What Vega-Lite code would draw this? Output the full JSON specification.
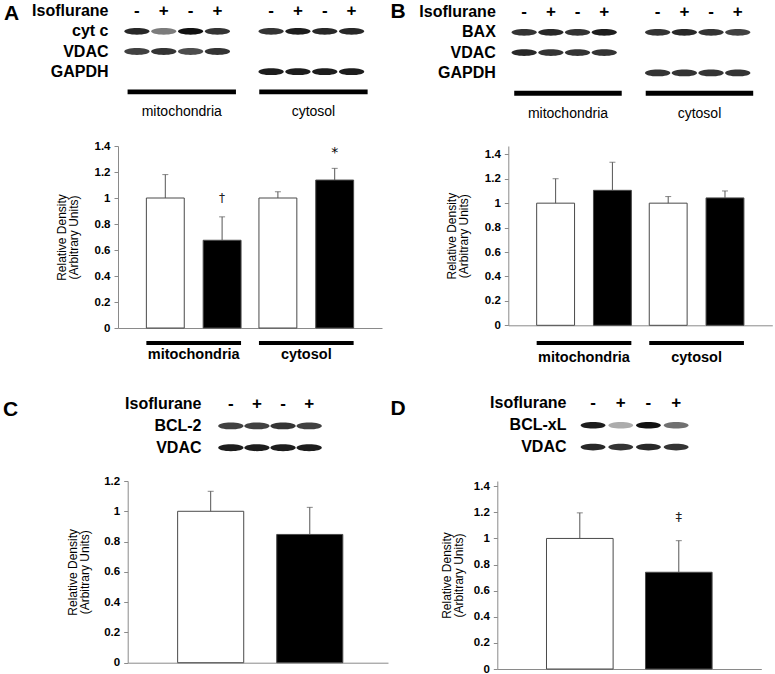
{
  "$schema": "https://vega.github.io/schema/vega-lite/v6.json",
  "background": "white",
  "padding": {"left": 2, "top": 0, "right": 0, "bottom": 0},
  "config": {"font": "Liberation Sans", "view": {"stroke": null}},
  "datasets": {
    "lanes8": [
      {"lane": "m1", "sign": "-"},
      {"lane": "m2", "sign": "+"},
      {"lane": "m3", "sign": "-"},
      {"lane": "m4", "sign": "+"},
      {"lane": "c1", "sign": "-"},
      {"lane": "c2", "sign": "+"},
      {"lane": "c3", "sign": "-"},
      {"lane": "c4", "sign": "+"}
    ],
    "lanes4": [
      {"lane": 1, "sign": "-"},
      {"lane": 2, "sign": "+"},
      {"lane": 3, "sign": "-"},
      {"lane": 4, "sign": "+"}
    ],
    "groups": [{"group": "mitochondria"}, {"group": "cytosol"}],
    "bandsA": [
      {"row": "cyt c", "lane": "m1", "intensity": 0.9},
      {"row": "cyt c", "lane": "m2", "intensity": 0.55},
      {"row": "cyt c", "lane": "m3", "intensity": 1.0},
      {"row": "cyt c", "lane": "m4", "intensity": 0.85},
      {"row": "cyt c", "lane": "c1", "intensity": 0.85},
      {"row": "cyt c", "lane": "c2", "intensity": 0.95},
      {"row": "cyt c", "lane": "c3", "intensity": 0.9},
      {"row": "cyt c", "lane": "c4", "intensity": 0.9},
      {"row": "VDAC", "lane": "m1", "intensity": 0.8},
      {"row": "VDAC", "lane": "m2", "intensity": 0.85},
      {"row": "VDAC", "lane": "m3", "intensity": 0.75},
      {"row": "VDAC", "lane": "m4", "intensity": 0.85},
      {"row": "GAPDH", "lane": "c1", "intensity": 0.95},
      {"row": "GAPDH", "lane": "c2", "intensity": 0.95},
      {"row": "GAPDH", "lane": "c3", "intensity": 0.95},
      {"row": "GAPDH", "lane": "c4", "intensity": 0.95}
    ],
    "bandsB": [
      {"row": "BAX", "lane": "m1", "intensity": 0.85},
      {"row": "BAX", "lane": "m2", "intensity": 0.9},
      {"row": "BAX", "lane": "m3", "intensity": 0.85},
      {"row": "BAX", "lane": "m4", "intensity": 0.95},
      {"row": "BAX", "lane": "c1", "intensity": 0.85},
      {"row": "BAX", "lane": "c2", "intensity": 0.9},
      {"row": "BAX", "lane": "c3", "intensity": 0.85},
      {"row": "BAX", "lane": "c4", "intensity": 0.8},
      {"row": "VDAC", "lane": "m1", "intensity": 0.9},
      {"row": "VDAC", "lane": "m2", "intensity": 0.85},
      {"row": "VDAC", "lane": "m3", "intensity": 0.85},
      {"row": "VDAC", "lane": "m4", "intensity": 0.85},
      {"row": "GAPDH", "lane": "c1", "intensity": 0.85},
      {"row": "GAPDH", "lane": "c2", "intensity": 0.85},
      {"row": "GAPDH", "lane": "c3", "intensity": 0.85},
      {"row": "GAPDH", "lane": "c4", "intensity": 0.85}
    ],
    "bandsC": [
      {"row": "BCL-2", "lane": 1, "intensity": 0.8},
      {"row": "BCL-2", "lane": 2, "intensity": 0.8},
      {"row": "BCL-2", "lane": 3, "intensity": 0.85},
      {"row": "BCL-2", "lane": 4, "intensity": 0.8},
      {"row": "VDAC", "lane": 1, "intensity": 0.95},
      {"row": "VDAC", "lane": 2, "intensity": 0.95},
      {"row": "VDAC", "lane": 3, "intensity": 0.95},
      {"row": "VDAC", "lane": 4, "intensity": 0.95}
    ],
    "bandsD": [
      {"row": "BCL-xL", "lane": 1, "intensity": 0.95},
      {"row": "BCL-xL", "lane": 2, "intensity": 0.35},
      {"row": "BCL-xL", "lane": 3, "intensity": 1.0},
      {"row": "BCL-xL", "lane": 4, "intensity": 0.6},
      {"row": "VDAC", "lane": 1, "intensity": 0.9},
      {"row": "VDAC", "lane": 2, "intensity": 0.85},
      {"row": "VDAC", "lane": 3, "intensity": 0.9},
      {"row": "VDAC", "lane": 4, "intensity": 0.85}
    ],
    "barsA": [
      {"group": "mitochondria", "treatment": "-", "value": 1.0, "upper": 1.18, "marker": ""},
      {"group": "mitochondria", "treatment": "+", "value": 0.675, "upper": 0.855, "marker": "†"},
      {"group": "cytosol", "treatment": "-", "value": 1.0, "upper": 1.048, "marker": ""},
      {"group": "cytosol", "treatment": "+", "value": 1.138, "upper": 1.228, "marker": "*"}
    ],
    "barsB": [
      {"group": "mitochondria", "treatment": "-", "value": 1.0, "upper": 1.2, "marker": ""},
      {"group": "mitochondria", "treatment": "+", "value": 1.105, "upper": 1.335, "marker": ""},
      {"group": "cytosol", "treatment": "-", "value": 1.0, "upper": 1.054, "marker": ""},
      {"group": "cytosol", "treatment": "+", "value": 1.043, "upper": 1.1, "marker": ""}
    ],
    "barsC": [
      {"treatment": "-", "value": 1.0, "upper": 1.132, "marker": ""},
      {"treatment": "+", "value": 0.847, "upper": 1.026, "marker": ""}
    ],
    "barsD": [
      {"treatment": "-", "value": 1.0, "upper": 1.196, "marker": ""},
      {"treatment": "+", "value": 0.741, "upper": 0.983, "marker": "‡"}
    ]
  },
  "columns": 2,
  "bounds": "flush",
  "spacing": {"row": 13, "column": 109.3},
  "concat": [
    {
      "width": 264, "height": 132,
      "resolve": {"scale": {"x": "independent"}},
      "layer": [
        {
          "data": {"name": "bandsA"},
          "mark": {"type": "point", "shape": "M-1,0A1,0.27,0,1,1,1,0A1,0.27,0,1,1,-1,0Z", "filled": true, "size": 640, "color": "#111111", "strokeWidth": 0},
          "encoding": {
            "x": {"field": "lane", "type": "nominal", "scale": {"type": "band", "domain": ["m1", "m2", "m3", "m4", "gap", "c1", "c2", "c3", "c4"], "range": [5.5, 247], "paddingInner": 0, "paddingOuter": 0}, "axis": null},
            "y": {"field": "row", "type": "nominal", "scale": {"type": "band", "domain": ["Isoflurane", "cyt c", "VDAC", "GAPDH", "~line", "~label"], "paddingInner": 0, "paddingOuter": 0.267, "align": 0},
              "axis": {"title": "A", "titleAngle": 0, "titleX": -107, "titleY": 12, "titleFontSize": 21, "titleFontWeight": "bold", "titleAlign": "center", "titleBaseline": "middle", "titleColor": "black",
                "labelFontSize": 16, "labelFontWeight": "bold", "labelColor": "black", "labelPadding": 10, "ticks": false, "domain": false,
                "labelExpr": "indexof(datum.label, '~') == 0 ? '' : datum.label"}},
            "opacity": {"field": "intensity", "type": "quantitative", "scale": null}
          }
        },
        {
          "data": {"name": "lanes8"},
          "mark": {"type": "text", "fontSize": 17, "fontWeight": "bold", "baseline": "middle"},
          "encoding": {
            "x": {"field": "lane", "type": "nominal", "scale": {"type": "band", "domain": ["m1", "m2", "m3", "m4", "gap", "c1", "c2", "c3", "c4"], "range": [5.5, 247], "paddingInner": 0, "paddingOuter": 0}, "axis": null},
            "y": {"datum": "Isoflurane", "type": "nominal"},
            "text": {"field": "sign"}
          }
        },
        {
          "data": {"name": "groups"},
          "mark": {"type": "rect", "color": "black", "height": {"band": 0.24}},
          "encoding": {
            "x": {"field": "group", "type": "nominal", "sort": ["mitochondria", "cytosol"], "scale": {"type": "band", "paddingInner": 0.177, "paddingOuter": 0.091, "align": 0.4}, "axis": null},
            "y": {"datum": "~line", "type": "nominal"}
          }
        },
        {
          "data": {"name": "groups"},
          "mark": {"type": "text", "fontSize": 14, "baseline": "middle"},
          "encoding": {
            "x": {"field": "group", "type": "nominal", "sort": ["mitochondria", "cytosol"], "scale": {"type": "band", "paddingInner": 0.177, "paddingOuter": 0.091, "align": 0.4}, "axis": null},
            "y": {"datum": "~label", "type": "nominal"},
            "text": {"field": "group"}
          }
        }
      ]
    },
    {
      "width": 275, "height": 132,
      "resolve": {"scale": {"x": "independent"}},
      "layer": [
        {
          "data": {"name": "bandsB"},
          "mark": {"type": "point", "shape": "M-1,0A1,0.27,0,1,1,1,0A1,0.27,0,1,1,-1,0Z", "filled": true, "size": 640, "color": "#111111", "strokeWidth": 0},
          "encoding": {
            "x": {"field": "lane", "type": "nominal", "scale": {"type": "band", "domain": ["m1", "m2", "m3", "m4", "gap", "c1", "c2", "c3", "c4"], "range": [13.5, 253.8], "paddingInner": 0, "paddingOuter": 0}, "axis": null},
            "y": {"field": "row", "type": "nominal", "scale": {"type": "band", "domain": ["Isoflurane", "BAX", "VDAC", "GAPDH", "~line", "~label"], "paddingInner": 0, "paddingOuter": 0.251, "align": 0.083},
              "axis": {"title": "B", "titleAngle": 0, "titleX": -99.8, "titleY": 10, "titleFontSize": 21, "titleFontWeight": "bold", "titleAlign": "center", "titleBaseline": "middle", "titleColor": "black",
                "labelFontSize": 16, "labelFontWeight": "bold", "labelColor": "black", "labelPadding": 2, "ticks": false, "domain": false,
                "labelExpr": "indexof(datum.label, '~') == 0 ? '' : datum.label"}},
            "opacity": {"field": "intensity", "type": "quantitative", "scale": null}
          }
        },
        {
          "data": {"name": "lanes8"},
          "mark": {"type": "text", "fontSize": 17, "fontWeight": "bold", "baseline": "middle"},
          "encoding": {
            "x": {"field": "lane", "type": "nominal", "scale": {"type": "band", "domain": ["m1", "m2", "m3", "m4", "gap", "c1", "c2", "c3", "c4"], "range": [13.5, 253.8], "paddingInner": 0, "paddingOuter": 0}, "axis": null},
            "y": {"datum": "Isoflurane", "type": "nominal"},
            "text": {"field": "sign"}
          }
        },
        {
          "data": {"name": "groups"},
          "mark": {"type": "rect", "color": "black", "height": {"band": 0.24}},
          "encoding": {
            "x": {"field": "group", "type": "nominal", "sort": ["mitochondria", "cytosol"], "scale": {"type": "band", "paddingInner": 0.1825, "paddingOuter": 0.137, "align": 0.47}, "axis": null},
            "y": {"datum": "~line", "type": "nominal"}
          }
        },
        {
          "data": {"name": "groups"},
          "mark": {"type": "text", "fontSize": 14, "baseline": "middle"},
          "encoding": {
            "x": {"field": "group", "type": "nominal", "sort": ["mitochondria", "cytosol"], "scale": {"type": "band", "paddingInner": 0.1825, "paddingOuter": 0.137, "align": 0.47}, "axis": null},
            "y": {"datum": "~label", "type": "nominal"},
            "text": {"field": "group"}
          }
        }
      ]
    },
    {
      "width": 264, "height": 182,
      "data": {"name": "barsA"},
      "encoding": {
        "x": {"field": "group", "type": "nominal", "sort": ["mitochondria", "cytosol"], "scale": {"type": "band", "paddingInner": 0.159, "paddingOuter": 0.252}, "axis": {"labels": false, "ticks": false, "title": null, "domainColor": "#8a8a8a"}},
        "xOffset": {"field": "treatment", "type": "nominal", "sort": ["-", "+"], "scale": {"type": "band", "domain": ["-", "+"], "paddingInner": 0.333, "paddingOuter": 0}}
      },
      "layer": [
        {
          "mark": {"type": "bar", "stroke": "#4a4a4a", "strokeWidth": 1},
          "encoding": {
            "y": {"field": "value", "type": "quantitative", "scale": {"domain": [0, 1.4], "nice": false},
              "axis": {"title": ["Relative Density", "(Arbitrary Units)"], "titleFontSize": 12, "titleFontWeight": "normal", "titleLineHeight": 12, "titleColor": "black", "titlePadding": 14,
                "tickCount": 7, "format": "~g", "labelOverlap": false, "labelFontSize": 11.5, "labelFontWeight": "bold", "labelColor": "black", "labelPadding": 4,
                "tickSize": 4, "tickColor": "#8a8a8a", "domainColor": "#8a8a8a", "grid": false}},
            "fill": {"field": "treatment", "type": "nominal", "scale": {"domain": ["-", "+"], "range": ["white", "black"]}, "legend": null}
          }
        },
        {
          "mark": {"type": "rule", "color": "#555555", "strokeWidth": 1},
          "encoding": {"y": {"field": "value", "type": "quantitative"}, "y2": {"field": "upper"}}
        },
        {
          "mark": {"type": "tick", "orient": "horizontal", "size": 6, "thickness": 1, "color": "#555555"},
          "encoding": {"y": {"field": "upper", "type": "quantitative"}}
        },
        {
          "transform": [{"filter": "datum.marker == '*'"}],
          "mark": {"type": "text", "fontSize": 14, "baseline": "middle", "dy": -15, "color": "black", "font": "DejaVu Sans"},
          "encoding": {"y": {"field": "upper", "type": "quantitative"}, "text": {"field": "marker"}}
        },
        {
          "transform": [{"filter": "datum.marker != '*'"}],
          "mark": {"type": "text", "fontSize": 12, "baseline": "middle", "dy": -19, "color": "#222222", "font": "DejaVu Sans"},
          "encoding": {"y": {"field": "upper", "type": "quantitative"}, "text": {"field": "marker"}}
        }
      ]
    },
    {
      "width": 275, "height": 179.3,
      "data": {"name": "barsB"},
      "encoding": {
        "x": {"field": "group", "type": "nominal", "sort": ["mitochondria", "cytosol"], "scale": {"type": "band", "range": [11, 275], "paddingInner": 0.159, "paddingOuter": 0.252}, "axis": {"labels": false, "ticks": false, "title": null, "domainColor": "#8a8a8a"}},
        "xOffset": {"field": "treatment", "type": "nominal", "sort": ["-", "+"], "scale": {"type": "band", "domain": ["-", "+"], "paddingInner": 0.333, "paddingOuter": 0}}
      },
      "layer": [
        {
          "mark": {"type": "bar", "stroke": "#4a4a4a", "strokeWidth": 1},
          "encoding": {
            "y": {"field": "value", "type": "quantitative", "scale": {"domain": [0, 1.468], "nice": false},
              "axis": {"title": ["Relative Density", "(Arbitrary Units)"], "titleFontSize": 12, "titleFontWeight": "normal", "titleLineHeight": 12, "titleColor": "black", "titlePadding": 14, "offset": -11,
                "tickCount": 7, "format": "~g", "labelOverlap": false, "labelFontSize": 11.5, "labelFontWeight": "bold", "labelColor": "black", "labelPadding": 4,
                "tickSize": 4, "tickColor": "#8a8a8a", "domainColor": "#8a8a8a", "grid": false}},
            "fill": {"field": "treatment", "type": "nominal", "scale": {"domain": ["-", "+"], "range": ["white", "black"]}, "legend": null}
          }
        },
        {
          "mark": {"type": "rule", "color": "#555555", "strokeWidth": 1},
          "encoding": {"y": {"field": "value", "type": "quantitative"}, "y2": {"field": "upper"}}
        },
        {
          "mark": {"type": "tick", "orient": "horizontal", "size": 6, "thickness": 1, "color": "#555555"},
          "encoding": {"y": {"field": "upper", "type": "quantitative"}}
        }
      ]
    },
    {
      "width": 264, "height": 4,
      "data": {"name": "groups"},
      "mark": {"type": "rect", "color": "black"},
      "encoding": {
        "x": {"field": "group", "type": "nominal", "sort": ["mitochondria", "cytosol"], "scale": {"type": "band", "paddingInner": 0.159, "paddingOuter": 0.252},
          "axis": {"title": null, "domain": false, "ticks": false, "labelAngle": 0, "labelFontSize": 14.5, "labelFontWeight": "bold", "labelColor": "black", "labelPadding": 2}}
      }
    },
    {
      "width": 275, "height": 4,
      "data": {"name": "groups"},
      "mark": {"type": "rect", "color": "black"},
      "encoding": {
        "x": {"field": "group", "type": "nominal", "sort": ["mitochondria", "cytosol"], "scale": {"type": "band", "range": [11, 275], "paddingInner": 0.159, "paddingOuter": 0.252},
          "axis": {"title": null, "domain": false, "ticks": false, "labelAngle": 0, "labelFontSize": 14.5, "labelFontWeight": "bold", "labelColor": "black", "labelPadding": 5}}
      }
    },
    {
      "width": 270, "height": 109.3,
      "layer": [
        {
          "data": {"name": "bandsC"},
          "mark": {"type": "point", "shape": "M-1,0A1,0.27,0,1,1,1,0A1,0.27,0,1,1,-1,0Z", "filled": true, "size": 640, "color": "#111111", "strokeWidth": 0},
          "encoding": {
            "x": {"field": "lane", "type": "ordinal", "scale": {"type": "band", "range": [99.8, 204.2], "paddingInner": 0, "paddingOuter": 0}, "axis": null},
            "y": {"field": "row", "type": "nominal", "scale": {"type": "band", "domain": ["Isoflurane", "BCL-2", "VDAC"], "paddingInner": 0, "paddingOuter": 1, "align": 0.803},
              "axis": {"title": "C", "titleAngle": 0, "titleX": -194, "titleY": 51, "titleFontSize": 21, "titleFontWeight": "bold", "titleAlign": "center", "titleBaseline": "middle", "titleColor": "black", "offset": -86,
                "labelFontSize": 16, "labelFontWeight": "bold", "labelColor": "black", "labelPadding": 3, "ticks": false, "domain": false}},
            "opacity": {"field": "intensity", "type": "quantitative", "scale": null}
          }
        },
        {
          "data": {"name": "lanes4"},
          "mark": {"type": "text", "fontSize": 17, "fontWeight": "bold", "baseline": "middle"},
          "encoding": {
            "x": {"field": "lane", "type": "ordinal"},
            "y": {"datum": "Isoflurane", "type": "nominal"},
            "text": {"field": "sign"}
          }
        }
      ]
    },
    {
      "width": 264, "height": 109.3,
      "layer": [
        {
          "data": {"name": "bandsD"},
          "mark": {"type": "point", "shape": "M-1,0A1,0.27,0,1,1,1,0A1,0.27,0,1,1,-1,0Z", "filled": true, "size": 620, "color": "#111111", "strokeWidth": 0},
          "encoding": {
            "x": {"field": "lane", "type": "ordinal", "scale": {"type": "band", "range": [81.9, 192.7], "paddingInner": 0, "paddingOuter": 0}, "axis": null},
            "y": {"field": "row", "type": "nominal", "scale": {"type": "band", "domain": ["Isoflurane", "BCL-xL", "VDAC"], "paddingInner": 0, "paddingOuter": 1, "align": 0.788},
              "axis": {"title": "D", "titleAngle": 0, "titleX": -170.5, "titleY": 50, "titleFontSize": 21, "titleFontWeight": "bold", "titleAlign": "center", "titleBaseline": "middle", "titleColor": "black", "offset": -70.7,
                "labelFontSize": 16, "labelFontWeight": "bold", "labelColor": "black", "labelPadding": 2, "ticks": false, "domain": false}},
            "opacity": {"field": "intensity", "type": "quantitative", "scale": null}
          }
        },
        {
          "data": {"name": "lanes4"},
          "mark": {"type": "text", "fontSize": 17, "fontWeight": "bold", "baseline": "middle"},
          "encoding": {
            "x": {"field": "lane", "type": "ordinal"},
            "y": {"datum": "Isoflurane", "type": "nominal"},
            "text": {"field": "sign"}
          }
        }
      ]
    },
    {
      "width": 270, "height": 181.7,
      "data": {"name": "barsC"},
      "encoding": {
        "x": {"field": "treatment", "type": "nominal", "sort": ["-", "+"], "scale": {"type": "band", "range": [9.7, 270], "paddingInner": 0.333, "paddingOuter": 0.48, "align": 0.525}, "axis": {"labels": false, "ticks": false, "title": null, "domainColor": "#8a8a8a"}}
      },
      "layer": [
        {
          "mark": {"type": "bar", "stroke": "#4a4a4a", "strokeWidth": 1},
          "encoding": {
            "y": {"field": "value", "type": "quantitative", "scale": {"domain": [0, 1.2], "nice": false},
              "axis": {"title": ["Relative Density", "(Arbitrary Units)"], "titleFontSize": 12, "titleFontWeight": "normal", "titleLineHeight": 12, "titleColor": "black", "titlePadding": 12, "offset": -9.7,
                "tickCount": 6, "format": "~g", "labelOverlap": false, "labelFontSize": 11.5, "labelFontWeight": "bold", "labelColor": "black", "labelPadding": 4,
                "tickSize": 4, "tickColor": "#8a8a8a", "domainColor": "#8a8a8a", "grid": false}},
            "fill": {"field": "treatment", "type": "nominal", "scale": {"domain": ["-", "+"], "range": ["white", "black"]}, "legend": null}
          }
        },
        {
          "mark": {"type": "rule", "color": "#555555", "strokeWidth": 1},
          "encoding": {"y": {"field": "value", "type": "quantitative"}, "y2": {"field": "upper"}}
        },
        {
          "mark": {"type": "tick", "orient": "horizontal", "size": 6, "thickness": 1, "color": "#555555"},
          "encoding": {"y": {"field": "upper", "type": "quantitative"}}
        }
      ]
    },
    {
      "width": 264, "height": 188,
      "data": {"name": "barsD"},
      "encoding": {
        "x": {"field": "treatment", "type": "nominal", "sort": ["-", "+"], "scale": {"type": "band", "paddingInner": 0.327, "paddingOuter": 0.497}, "axis": {"labels": false, "ticks": false, "title": null, "domainColor": "#8a8a8a"}}
      },
      "layer": [
        {
          "mark": {"type": "bar", "stroke": "#4a4a4a", "strokeWidth": 1},
          "encoding": {
            "y": {"field": "value", "type": "quantitative", "scale": {"domain": [0, 1.44], "nice": false},
              "axis": {"title": ["Relative Density", "(Arbitrary Units)"], "titleFontSize": 12, "titleFontWeight": "normal", "titleLineHeight": 12, "titleColor": "black", "titlePadding": 8,
                "tickCount": 7, "format": "~g", "labelOverlap": false, "labelFontSize": 11.5, "labelFontWeight": "bold", "labelColor": "black", "labelPadding": 4,
                "tickSize": 4, "tickColor": "#8a8a8a", "domainColor": "#8a8a8a", "grid": false}},
            "fill": {"field": "treatment", "type": "nominal", "scale": {"domain": ["-", "+"], "range": ["white", "black"]}, "legend": null}
          }
        },
        {
          "mark": {"type": "rule", "color": "#555555", "strokeWidth": 1},
          "encoding": {"y": {"field": "value", "type": "quantitative"}, "y2": {"field": "upper"}}
        },
        {
          "mark": {"type": "tick", "orient": "horizontal", "size": 6, "thickness": 1, "color": "#555555"},
          "encoding": {"y": {"field": "upper", "type": "quantitative"}}
        },
        {
          "mark": {"type": "text", "fontSize": 13, "baseline": "middle", "dy": -24, "color": "#222222", "font": "DejaVu Sans"},
          "encoding": {"y": {"field": "upper", "type": "quantitative"}, "text": {"field": "marker"}}
        }
      ]
    }
  ]
}
